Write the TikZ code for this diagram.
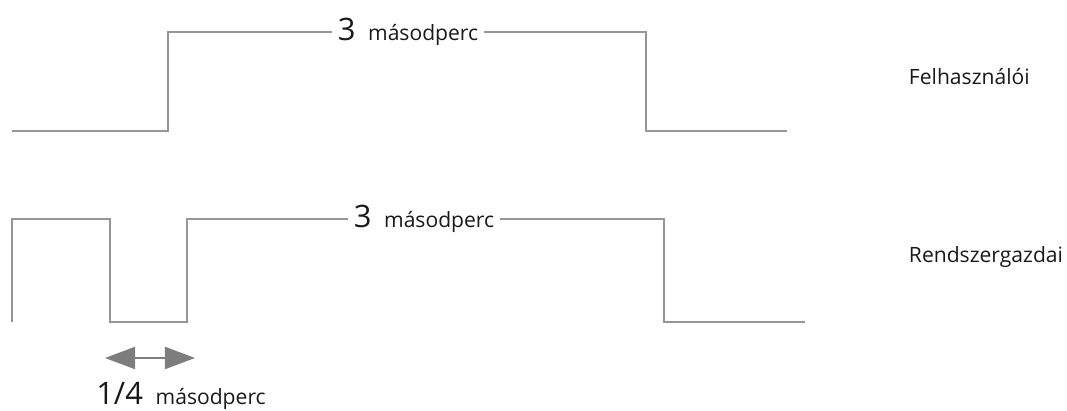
\documentclass[tikz,border=0pt]{standalone}
\usepackage{fontspec}
\setmainfont{Open Sans}
\usetikzlibrary{arrows.meta}

\definecolor{wavegray}{RGB}{150,150,150}
\definecolor{arrowgray}{RGB}{125,125,125}
\definecolor{textgray}{RGB}{25,25,25}

\newcommand{\bignum}[1]{{\fontsize{22}{24}\selectfont #1}}

\tikzset{
  wave/.style={draw=wavegray, line width=1.5pt},
  timelabel/.style={fill=white, inner xsep=4pt, inner ysep=0pt, text=textgray,
    font=\fontsize{15}{17}\selectfont},
  sidelabel/.style={anchor=west, text=textgray, font=\fontsize{15}{17}\selectfont},
  span/.style={draw=arrowgray, line width=1.4pt,
    {Triangle[length=0.75cm,width=0.55cm]}-{Triangle[length=0.75cm,width=0.55cm]}},
}

\begin{document}
\begin{tikzpicture}[x=0.025cm,y=-0.025cm]
\useasboundingbox (0,0) rectangle (1067,410);

% Felhasznaloi
\node [timelabel] (userlbl) at (408,32) {\bignum{3}\hspace{9pt}másodperc};
\draw [wave] (12,131) -- (168,131) -- (168,32) -- (userlbl.west);
\draw [wave] (userlbl.east) -- (646,32) -- (646,131) -- (787,131);
\node [sidelabel] (user) at (904,77) {Felhasználói};

% Rendszergazdai
\node [timelabel] (adminlbl) at (424,219) {\bignum{3}\hspace{9pt}másodperc};
\draw [wave] (12,322) -- (12,219) -- (110,219) -- (110,322) -- (187,322)
  -- (187,219) -- (adminlbl.west);
\draw [wave] (adminlbl.east) -- (664,219) -- (664,322) -- (805,322);
\node [sidelabel] (admin) at (904,257) {Rendszergazdai};

% 1/4 masodperc
\coordinate (qstart) at (105,358);
\coordinate (qend)   at (195,358);
\draw [span] (qstart) -- (qend);
\node [text=textgray, font=\fontsize{15}{17}\selectfont] (quarter) at (181,396)
  {\bignum{1/4}\hspace{9pt}másodperc};
\end{tikzpicture}
\end{document}
